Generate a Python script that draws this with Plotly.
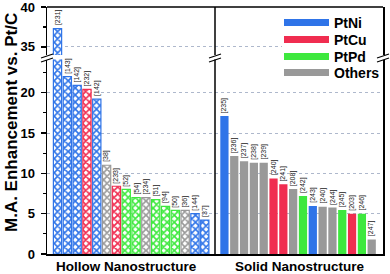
import plotly.graph_objects as go

# ---------------- data ----------------
hollow_refs = ["[231]", "[143]", "[142]", "[232]", "[142]", "[38]", "[233]", "[52]",
               "[54]", "[234]", "[51]", "[94]", "[50]", "[36]", "[144]", "[37]"]
hollow_vals = [37.3, 22.0, 20.9, 20.4, 19.2, 11.0, 8.4, 8.0,
               7.0, 7.0, 6.75, 5.9, 5.4, 5.4, 5.0, 4.2]
hollow_types = ["PtNi", "PtNi", "PtNi", "PtCu", "PtNi", "Others", "PtCu", "PtPd",
                "PtPd", "Others", "PtPd", "PtPd", "PtPd", "Others", "PtNi", "PtNi"]

solid_refs = ["[235]", "[236]", "[237]", "[238]", "[239]", "[240]", "[241]", "[208]",
              "[242]", "[243]", "[240]", "[244]", "[245]", "[203]", "[246]", "[247]"]
solid_vals = [17.1, 12.15, 11.5, 11.3, 11.3, 9.35, 8.65, 8.05,
              7.2, 5.95, 5.85, 5.75, 5.45, 5.0, 5.0, 1.8]
solid_types = ["PtNi", "Others", "Others", "Others", "Others", "PtCu", "PtCu", "Others",
               "PtPd", "PtNi", "Others", "Others", "PtPd", "PtCu", "PtPd", "Others"]

group_labels = ["Hollow Nanostructure", "Solid Nanostructure"]
legend_names = ["PtNi", "PtCu", "PtPd", "Others"]

lower_range = [0, 24.1]
upper_range = [34, 40]
lower_ticks = [0, 5, 10, 15, 20]
upper_ticks = [35, 40]

# ---------------- style ----------------
COLORS = {"PtNi": "#2f74e8", "PtCu": "#f02d50", "PtPd": "#3ee83e", "Others": "#999999"}
FONT = "Liberation Sans, Arial, sans-serif"
W, H = 390, 274
ML, MR, MT, MB = 47, 7, 7, 20
PW, PH = W - ML - MR, H - MT - MB

def px(xp):  # pixel x -> paper
    return (xp - ML) / PW

def py(yp):  # pixel y -> paper
    return (H - MB - yp) / PH

lower_top = 0.787
upper_bot = 0.806

gap = 1  # empty slot between groups
hx = list(range(len(hollow_vals)))
sx = [len(hollow_vals) + gap + i for i in range(len(solid_vals))]

fig = go.Figure()

hcol = [COLORS[t] for t in hollow_types]
scol = [COLORS[t] for t in solid_types]

for ya in ["y", "y2"]:
    fig.add_trace(go.Bar(
        x=hx, y=hollow_vals, yaxis=ya, width=0.84, showlegend=False,
        marker=dict(color="white", line=dict(color=hcol, width=1.2),
                    pattern=dict(shape="x", fgcolor=hcol, bgcolor="white",
                                 size=5, solidity=0.55, fillmode="replace")),
        hoverinfo="skip"))
    fig.add_trace(go.Bar(
        x=sx, y=solid_vals, yaxis=ya, width=0.84, showlegend=False,
        marker=dict(color=scol, line=dict(width=0)),
        hoverinfo="skip"))

legend_rows = [23, 40, 57, 73]
legend_layouts = {}
for k, (name, yr) in enumerate(zip(legend_names, legend_rows)):
    lg = "legend" if k == 0 else f"legend{k + 1}"
    fig.add_trace(go.Scatter(x=[None], y=[None], mode="lines", name=name, legend=lg,
                             line=dict(color=COLORS[name], width=7)))
    legend_layouts[lg] = dict(x=px(279), y=py(yr), xanchor="left", yanchor="middle",
                              bgcolor="rgba(0,0,0,0)", itemwidth=45,
                              font=dict(family=FONT, size=14, color="black",
                                        weight="bold"))

annotations = []
for xs, vals, refs in [(hx, hollow_vals, hollow_refs), (sx, solid_vals, solid_refs)]:
    for x, v, r in zip(xs, vals, refs):
        annotations.append(dict(
            x=x, y=v, yref="y2" if v > upper_range[0] else "y", xref="x",
            text=r, textangle=-90, showarrow=False, xanchor="center",
            yanchor="bottom", yshift=1,
            font=dict(family=FONT, size=7, color="#222222")))

annotations.append(dict(
    x=px(11), y=py(123), xref="paper", yref="paper", text="M.A. Enhancement vs. Pt/C",
    textangle=-90, showarrow=False, xanchor="center", yanchor="middle",
    font=dict(family=FONT, size=17, color="black", weight="bold")))

group_centers = [(hx[0] + hx[-1]) / 2 - 0.5, (sx[0] + sx[-1]) / 2 + 0.2]
for gx, gl in zip(group_centers, group_labels):
    annotations.append(dict(
        x=gx, y=py(266), xref="x", yref="paper", text=gl, showarrow=False,
        xanchor="center", yanchor="middle",
        font=dict(family=FONT, size=13.5, color="black", weight="bold")))

shapes = []
# white panel behind legend (hides the dotted grid line there)
shapes.append(dict(type="rect", xref="paper", yref="paper", layer="above",
                   x0=px(282), x1=px(381), y0=py(81), y1=py(12),
                   fillcolor="white", line=dict(width=0)))
line_black = dict(color="black", width=1.5)
# top border
shapes.append(dict(type="line", xref="paper", yref="paper", x0=0, x1=1, y0=1, y1=1,
                   line=line_black))
# divider between groups
for (a, b) in [(0, lower_top), (upper_bot, 1)]:
    shapes.append(dict(type="line", xref="paper", yref="paper", x0=0.5, x1=0.5,
                       y0=a, y1=b, line=line_black))
# break marks
for xc in [ML, ML + PW / 2, ML + PW]:
    for dy in [-2, 2]:
        yc = 58 + dy
        shapes.append(dict(type="line", xref="paper", yref="paper",
                           x0=px(xc - 6), x1=px(xc + 6),
                           y0=py(yc + 2), y1=py(yc - 2),
                           line=dict(color="black", width=1.2)))

axis_common = dict(showline=True, linecolor="black", linewidth=1.5, mirror=True,
                   ticks="outside", ticklen=5, tickwidth=1.2, tickcolor="black",
                   ticklabelstandoff=3, ticklabeloverflow="allow",
                   showgrid=True, gridcolor="#aeb8cc", griddash="dot", gridwidth=1,
                   zeroline=False,
                   tickfont=dict(family=FONT, size=13, color="black", weight="bold"),
                   minor=dict(ticks="outside", ticklen=3, tickwidth=1.2,
                              tickcolor="black", dtick=2.5, showgrid=False))

fig.update_layout(
    width=W, height=H, margin=dict(l=ML, r=MR, t=MT, b=MB, autoexpand=False),
    paper_bgcolor="white", plot_bgcolor="white", barmode="overlay",
    xaxis=dict(range=[-1.07, 33.15], showline=True, linecolor="black", linewidth=1.5,
               showticklabels=False, ticks="", showgrid=False, zeroline=False,
               automargin=False),
    yaxis=dict(domain=[0, lower_top], range=lower_range, tickvals=lower_ticks,
               automargin=False, **axis_common),
    yaxis2=dict(domain=[upper_bot, 1], range=upper_range, tickvals=upper_ticks,
                automargin=False, **axis_common),
    annotations=annotations, shapes=shapes,
    **legend_layouts,
)

fig.write_html("out.html", config={"displayModeBar": False, "staticPlot": True})

# remove the browser's default page margin so the figure sits at the top-left corner
with open("out.html", encoding="utf-8") as f:
    html = f.read()
html = html.replace("<head>", "<head><style>html,body{margin:0;padding:0;}</style>", 1)
with open("out.html", "w", encoding="utf-8") as f:
    f.write(html)
